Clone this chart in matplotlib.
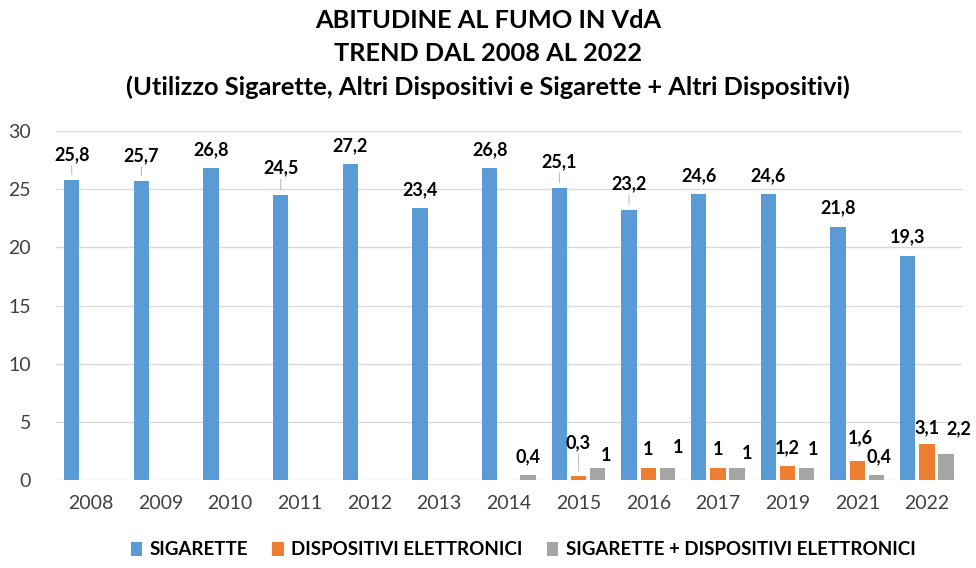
import numpy as np
import matplotlib
matplotlib.use("Agg")
import matplotlib.pyplot as plt

plt.rcParams['font.family'] = ['Lato', 'DejaVu Sans']

years = ["2008", "2009", "2010", "2011", "2012", "2013", "2014",
         "2015", "2016", "2017", "2019", "2021", "2022"]
sigarette = [25.8, 25.7, 26.8, 24.5, 27.2, 23.4, 26.8, 25.1, 23.2, 24.6, 24.6, 21.8, 19.3]
dispositivi = [0, 0, 0, 0, 0, 0, 0, 0.3, 1, 1, 1.2, 1.6, 3.1]
entrambi = [0, 0, 0, 0, 0, 0, 0.4, 1, 1, 1, 1, 0.4, 2.2]

series_names = ["SIGARETTE", "DISPOSITIVI ELETTRONICI", "SIGARETTE + DISPOSITIVI ELETTRONICI"]
colors = ["#5B9BD5", "#ED7D31", "#A5A5A5"]

# label placement (dx, dy) in pixels, keyed by (series, index); leader = moved label
nudges = {(0, 0): (0, 17), (0, 1): (0, 17), (0, 3): (0, 19), (0, 7): (0, 18),
          (0, 8): (0, 18), (1, 7): (0, 25), (2, 7): (8, 4), (2, 8): (11, 12),
          (2, 9): (10, 6), (2, 10): (6, 10), (1, 11): (3, 15), (2, 11): (3, 10),
          (2, 12): (13, 17), (1, 12): (0, 8)}
leaders = [(0, 0), (0, 1), (0, 3), (0, 7), (0, 8), (1, 7)]
px = 72 / 100

def fmt(v):
    s = f"{v:.1f}".replace(".", ",")
    return s[:-2] if s.endswith(",0") else s

fig = plt.figure(figsize=(9.76, 5.68), dpi=100)
ax = fig.add_axes([0.0574, 0.155, 0.928, 0.614])

x = np.arange(len(years))
w = 0.22
step = 0.275
data = [sigarette, dispositivi, entrambi]
for k, vals in enumerate(data):
    xs = x + (k - 1) * step
    ax.bar(xs, vals, width=w, color=colors[k], label=series_names[k], zorder=2)
    for i, v in enumerate(vals):
        if v == 0:
            continue
        dx, dy = nudges.get((k, i), (0, 10))
        props = None
        if (k, i) in leaders:
            props = dict(arrowstyle="-", color="#BFBFBF", lw=0.8, shrinkA=0, shrinkB=4)
        ax.annotate(fmt(v), (xs[i], v), xytext=(dx * px, dy * px), textcoords="offset points",
                    ha="center", va="bottom", fontsize=13, fontweight="bold",
                    color="#000000", arrowprops=props)

ax.set_xlim(-0.5, len(years) - 0.5)
ax.set_ylim(0, 30)
ax.set_yticks(range(0, 31, 5))
ax.set_xticks(x)
ax.set_xticklabels(years)
ax.tick_params(axis="both", length=0, labelsize=14, colors="#404040")
ax.tick_params(axis="x", pad=11)
ax.tick_params(axis="y", pad=18)
ax.grid(axis="y", color="#D9D9D9", linewidth=1, zorder=0)
for s in ax.spines.values():
    s.set_visible(False)

fig.text(0.5, 0.985, "ABITUDINE AL FUMO IN VdA\nTREND DAL 2008 AL 2022\n"
         "(Utilizzo Sigarette, Altri Dispositivi e Sigarette + Altri Dispositivi)",
         ha="center", va="top", fontsize=18.3, fontweight="bold", linespacing=1.55)

fig.legend(loc="center", bbox_to_anchor=(0.536, 0.032), ncol=3, frameon=False,
           prop={"size": 13.5, "weight": "bold"}, handlelength=0.6, handleheight=0.8,
           handletextpad=0.4, columnspacing=1.3)

fig.savefig("out.png", dpi=100, facecolor="white")
